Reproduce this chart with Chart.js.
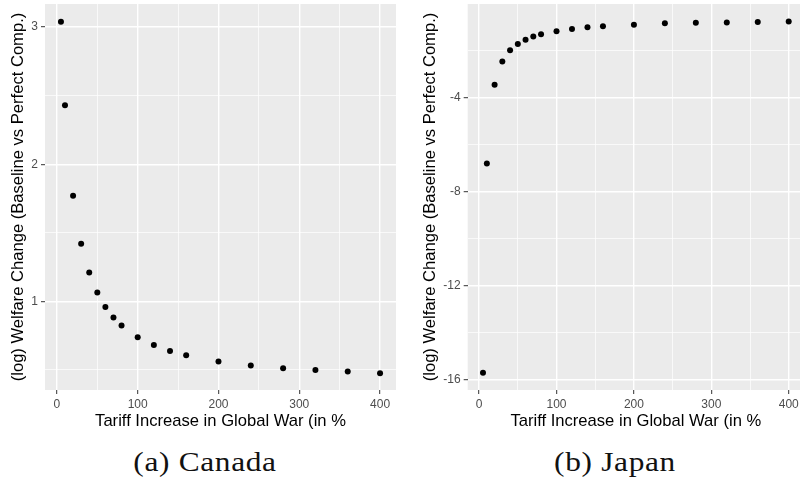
<!DOCTYPE html>
<html>
<head>
<meta charset="utf-8">
<script src="https://cdn.jsdelivr.net/npm/chart.js@4"></script>
<style>
    html, body { margin: 0; padding: 0; background: #ffffff; overflow: hidden; }
    body { width: 800px; height: 487px; position: relative; }
    canvas { position: absolute; top: 0; }
    #canadaChart { left: 0; }
    #japanChart { left: 400px; }
    .caption {
        position: absolute;
        top: 446px;
        font-family: "Liberation Serif", serif;
        font-size: 28px;
        color: #111;
        white-space: nowrap;
        transform: translateX(-50%) scaleX(1.12);
        letter-spacing: 0.6px;
    }
</style>
</head>
<body>
<canvas id="canadaChart" width="400" height="432"></canvas>
<canvas id="japanChart" width="408" height="432"></canvas>
<div class="caption" style="left: 205px;">(a) Canada</div>
<div class="caption" style="left: 615px;">(b) Japan</div>

<script>
// Data (baca dari gambar)
const tariffIncrease = [5, 10, 20, 30, 40, 50, 60, 70, 80, 100, 120, 140, 160, 200, 240, 280, 320, 360, 400];
const canadaWelfare = [3.04, 2.43, 1.77, 1.42, 1.21, 1.065, 0.96, 0.883, 0.825, 0.738, 0.682, 0.639, 0.607, 0.562, 0.533, 0.513, 0.499, 0.489, 0.477];
const japanWelfare = [-15.72, -6.80, -3.45, -2.46, -1.98, -1.71, -1.53, -1.39, -1.30, -1.17, -1.08, -1.00, -0.96, -0.89, -0.83, -0.81, -0.80, -0.78, -0.76];

// Tick labels
const xMajorTicks = [0, 100, 200, 300, 400];
const xMinorTicks = [50, 150, 250, 350];
const canadaMajorTicks = [1, 2, 3];
const canadaMinorTicks = [0.5, 1.5, 2.5];
const japanMajorTicks = [-16, -12, -8, -4];
const japanMinorTicks = [-14, -10, -6, -2];

const xTitle = 'Tariff Increase in Global War (in %';
const yTitle = '(log) Welfare Change (Baseline vs Perfect Comp.)';

document.addEventListener('DOMContentLoaded', function() {

    // latar abu-abu ala ggplot
    const panelBackground = {
        id: 'panelBackground',
        beforeDraw(chart) {
            const a = chart.chartArea;
            const ctx = chart.ctx;
            ctx.save();
            ctx.fillStyle = '#EBEBEB';
            ctx.fillRect(a.left, a.top, a.right - a.left, a.bottom - a.top);
            ctx.restore();
        }
    };

    function toPoints(ys) {
        return tariffIncrease.map((x, i) => ({ x: x, y: ys[i] }));
    }

    function makeAxis(major, minor, extra) {
        const all = major.concat(minor).sort((a, b) => a - b);
        const isMajor = v => major.includes(v);
        return Object.assign({
            type: 'linear',
            afterBuildTicks: function(scale) {
                scale.ticks = all.map(v => ({ value: v }));
            },
            border: { display: false },
            grid: {
                color: '#FFFFFF',
                lineWidth: ctx => isMajor(ctx.tick.value) ? 1.4 : 0.7,
                tickColor: ctx => isMajor(ctx.tick.value) ? '#333333' : 'rgba(0,0,0,0)',
                tickLength: 4,
                tickWidth: 1
            },
            ticks: {
                autoSkip: false,
                maxRotation: 0,
                color: '#4D4D4D',
                font: { family: 'Liberation Sans, Arial, sans-serif', size: 12 },
                callback: v => isMajor(v) ? String(v) : ''
            }
        }, extra);
    }

    function makeOptions(yMin, yMax, yMajor, yMinor, yWidth, yTitlePad) {
        return {
            responsive: false,
            animation: false,
            layout: { padding: { top: 2, right: 3, left: 0, bottom: 0 } },
            plugins: {
                legend: { display: false },
                tooltip: { enabled: false }
            },
            scales: {
                x: makeAxis(xMajorTicks, xMinorTicks, {
                    position: 'bottom',
                    min: -14.75,
                    max: 419.75,
                    afterFit: function(scale) {
                        scale.height = 42;
                        scale.paddingLeft = 0;
                        scale.paddingRight = 0;
                    },
                    title: {
                        display: true,
                        text: xTitle,
                        color: '#000000',
                        font: { family: 'Liberation Sans, Arial, sans-serif', size: 16.6 },
                        padding: { top: 0, bottom: 1 }
                    }
                }),
                y: makeAxis(yMajor, yMinor, {
                    position: 'left',
                    min: yMin,
                    max: yMax,
                    afterFit: function(scale) {
                        scale.width = yWidth;
                        scale.paddingTop = 0;
                        scale.paddingBottom = 0;
                    },
                    title: {
                        display: true,
                        text: yTitle,
                        color: '#000000',
                        font: { family: 'Liberation Sans, Arial, sans-serif', size: 16.6 },
                        padding: { top: yTitlePad, bottom: 0 }
                    }
                })
            }
        };
    }

    function makeDataset(ys) {
        return {
            data: toPoints(ys),
            backgroundColor: '#000000',
            borderColor: '#000000',
            pointRadius: 3,
            borderWidth: 0
        };
    }

    // Membuat grafik

    const canadaOpts = makeOptions(0.354, 3.169, canadaMajorTicks, canadaMinorTicks, 45, 8.5);
    const canadaChart = new Chart(
        document.getElementById('canadaChart'),
        {
            type: 'scatter',
            data: { datasets: [makeDataset(canadaWelfare)] },
            options: canadaOpts,
            plugins: [panelBackground]
        }
    );

    const japanOpts = makeOptions(-16.45, -0.01, japanMajorTicks, japanMinorTicks, 67.7, 20);
    japanOpts.layout.padding.right = 0;
    const japanChart = new Chart(
        document.getElementById('japanChart'),
        {
            type: 'scatter',
            data: { datasets: [makeDataset(japanWelfare)] },
            options: japanOpts,
            plugins: [panelBackground]
        }
    );
});
</script>
</body>
</html>
